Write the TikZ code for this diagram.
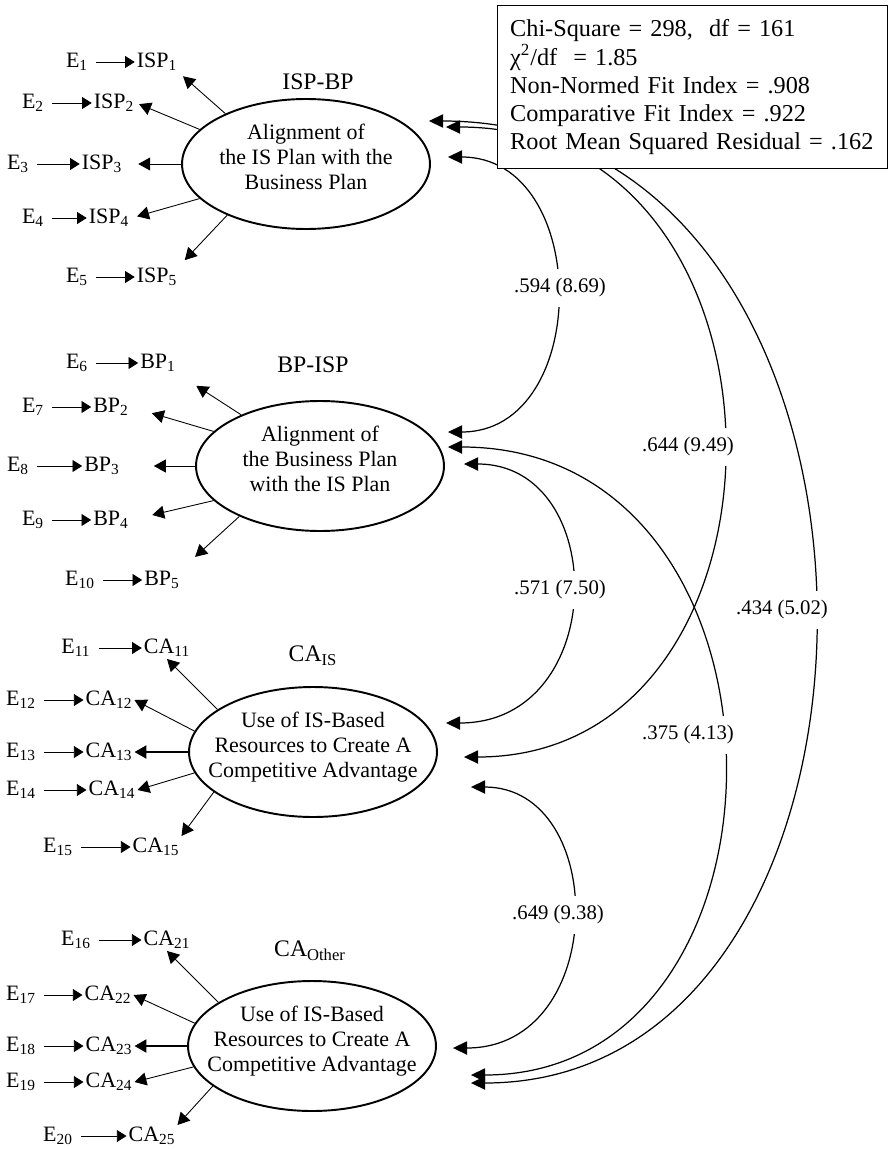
\documentclass[tikz,border=0pt]{standalone}
\usepackage{fontspec}
\setmainfont{Liberation Serif}
\usetikzlibrary{shapes.geometric,arrows.meta}

\begin{document}
\begin{tikzpicture}
            [x=0.02cm, y=-0.02cm,
            latent/.style={ellipse, draw, line width=1.1pt, minimum width=4.96cm, minimum height=2.6cm, inner xsep=-0.4cm, inner ysep=0pt, text depth=0.3cm, align=center, font=\fontsize{12.5}{14.2}\selectfont},
            lname/.style={font=\fontsize{13.5}{15}\selectfont},
            ind/.style={inner sep=1pt, font=\fontsize{12.5}{15}\selectfont},
            err/.style={inner sep=1pt, font=\fontsize{12.5}{15}\selectfont},
            errline/.style={-{Triangle[length=5.5pt,width=6.8pt]}, line width=0.5pt, shorten <=0.12cm},
            load/.style={-{Triangle[length=6.8pt,width=7.4pt]}, line width=0.5pt},
            corr/.style={{Triangle[length=8pt,width=7.5pt]}-{Triangle[length=8pt,width=7.5pt]}, line width=0.7pt},
            est/.style={fill=white, inner xsep=2pt, inner ysep=0.2cm, font=\fontsize{11.8}{13}\selectfont},
            fitbox/.style={draw, fill=white, line width=0.8pt, align=left, text width=7.3cm, inner xsep=0.25cm, minimum width=7.8cm, minimum height=3.26cm, font=\fontsize{13.8}{16}\selectfont}]

            \useasboundingbox (0,0) rectangle (889,1149);

            % Latent variables
            \node[latent] (ispbp) at (306,164) {Alignment of\\the IS Plan with the\\Business Plan};
            \node[latent] (bpisp) at (320,466) {Alignment of\\the Business Plan\\with the IS Plan};
            \node[latent] (cais) at (313,752) {Use of IS-Based\\Resources to Create A\\Competitive Advantage};
            \node[latent] (caoth) at (312,1046) {Use of IS-Based\\Resources to Create A\\Competitive Advantage};

            \node[lname] (ispbp-name) at (318,82) {ISP-BP};
            \node[lname] (bpisp-name) at (313,365) {BP-ISP};
            \node[lname] (cais-name) at (313,656) {CA\textsubscript{IS}};
            \node[lname] (caoth-name) at (310,951) {CA\textsubscript{Other}};

            % ISP-BP indicators
            \node[err] (e1) at (77,62) {E\textsubscript{1}};
            \node[err] (e2) at (33,103) {E\textsubscript{2}};
            \node[err] (e3) at (18,164) {E\textsubscript{3}};
            \node[err] (e4) at (33,218) {E\textsubscript{4}};
            \node[err] (e5) at (77,277) {E\textsubscript{5}};
            \node[ind] (isp1) at (157,62) {ISP\textsubscript{1}};
            \node[ind] (isp2) at (114,103) {ISP\textsubscript{2}};
            \node[ind] (isp3) at (102,164) {ISP\textsubscript{3}};
            \node[ind] (isp4) at (109,218) {ISP\textsubscript{4}};
            \node[ind] (isp5) at (157,277) {ISP\textsubscript{5}};

            % BP-ISP indicators
            \node[err] (e6) at (77,363) {E\textsubscript{6}};
            \node[err] (e7) at (33,407) {E\textsubscript{7}};
            \node[err] (e8) at (18,466) {E\textsubscript{8}};
            \node[err] (e9) at (33,520) {E\textsubscript{9}};
            \node[err] (e10) at (80,580) {E\textsubscript{10}};
            \node[ind] (bp1) at (158,363) {BP\textsubscript{1}};
            \node[ind] (bp2) at (111,407) {BP\textsubscript{2}};
            \node[ind] (bp3) at (102,466) {BP\textsubscript{3}};
            \node[ind] (bp4) at (111,520) {BP\textsubscript{4}};
            \node[ind] (bp5) at (162,580) {BP\textsubscript{5}};

            % CA_IS indicators
            \node[err] (e11) at (76,648) {E\textsubscript{11}};
            \node[err] (e12) at (21,700) {E\textsubscript{12}};
            \node[err] (e13) at (21,752) {E\textsubscript{13}};
            \node[err] (e14) at (21,790) {E\textsubscript{14}};
            \node[err] (e15) at (58,847) {E\textsubscript{15}};
            \node[ind] (ca11) at (167,648) {CA\textsubscript{11}};
            \node[ind] (ca12) at (109,700) {CA\textsubscript{12}};
            \node[ind] (ca13) at (109,752) {CA\textsubscript{13}};
            \node[ind] (ca14) at (112,790) {CA\textsubscript{14}};
            \node[ind] (ca15) at (156,847) {CA\textsubscript{15}};

            % CA_Other indicators
            \node[err] (e16) at (76,940) {E\textsubscript{16}};
            \node[err] (e17) at (21,995) {E\textsubscript{17}};
            \node[err] (e18) at (21,1046) {E\textsubscript{18}};
            \node[err] (e19) at (21,1082) {E\textsubscript{19}};
            \node[err] (e20) at (58,1136) {E\textsubscript{20}};
            \node[ind] (ca21) at (167,940) {CA\textsubscript{21}};
            \node[ind] (ca22) at (108,995) {CA\textsubscript{22}};
            \node[ind] (ca23) at (109,1046) {CA\textsubscript{23}};
            \node[ind] (ca24) at (109,1082) {CA\textsubscript{24}};
            \node[ind] (ca25) at (152,1136) {CA\textsubscript{25}};

            % Error terms
            \draw[errline] (e1) -- (isp1);
            \draw[errline] (e2) -- (isp2);
            \draw[errline] (e3) -- (isp3);
            \draw[errline] (e4) -- (isp4);
            \draw[errline] (e5) -- (isp5);
            \draw[errline] (e6) -- (bp1);
            \draw[errline] (e7) -- (bp2);
            \draw[errline] (e8) -- (bp3);
            \draw[errline] (e9) -- (bp4);
            \draw[errline] (e10) -- (bp5);
            \draw[errline] (e11) -- (ca11);
            \draw[errline] (e12) -- (ca12);
            \draw[errline] (e13) -- (ca13);
            \draw[errline] (e14) -- (ca14);
            \draw[errline] (e15) -- (ca15);
            \draw[errline] (e16) -- (ca21);
            \draw[errline] (e17) -- (ca22);
            \draw[errline] (e18) -- (ca23);
            \draw[errline] (e19) -- (ca24);
            \draw[errline] (e20) -- (ca25);

            % Loadings
            \draw[load, shorten >=0.1cm] (ispbp.148) -- (isp1.south east);
            \draw[load, shorten >=0.06cm] (ispbp.162) -- (isp2.east);
            \draw[load, shorten >=0.28cm] (ispbp.180) -- (isp3.east);
            \draw[load, shorten >=0.12cm] (ispbp.198) -- (isp4.east);
            \draw[load, shorten >=0.16cm] (ispbp.213) -- (isp5.north east);
            \draw[load, shorten >=0.44cm] (bpisp.147) -- (bp1.south east);
            \draw[load, shorten >=0.44cm] (bpisp.162) -- (bp2.east);
            \draw[load, shorten >=0.64cm] (bpisp.180) -- (bp3.east);
            \draw[load, shorten >=0.44cm] (bpisp.198) -- (bp4.east);
            \draw[load, shorten >=0.36cm] (bpisp.212) -- (bp5.north east);
            \draw[load] (cais.156) -- (ca11.south);
            \draw[load] (cais.170) -- (ca12.east);
            \draw[load, line width=1.2pt] (cais.180) -- (ca13.east);
            \draw[load] (cais.190) -- (ca14.east);
            \draw[load] (cais.202) -- (ca15.north east);
            \draw[load] (caoth.155) -- (ca21.south);
            \draw[load] (caoth.169) -- (ca22.east);
            \draw[load, line width=1.2pt] (caoth.180) -- (ca23.east);
            \draw[load] (caoth.190) -- (ca24.east);
            \draw[load] (caoth.202) -- (ca25.north east);

            % Correlations between the factors
            \draw[corr] ([shift={(17,-7)}]ispbp.east) .. controls +(144,0) and +(144,0) .. ([shift={(3,-34)}]bpisp.east);
            \draw[corr] ([shift={(15,-37)}]ispbp.east) .. controls +(366,0) and +(348,0) .. ([shift={(26,5)}]cais.east);
            \draw[corr] ([shift={(-2,-43)}]ispbp.east) .. controls +(506,0) and +(464,0) .. ([shift={(34,37)}]caoth.east);
            \draw[corr] ([shift={(19,-2)}]bpisp.east) .. controls +(146,0) and +(164,0) .. ([shift={(8,-29)}]cais.east);
            \draw[corr] ([shift={(3,-19)}]bpisp.east) .. controls +(363,0) and +(340,0) .. ([shift={(34,29)}]caoth.east);
            \draw[corr] ([shift={(33,35)}]cais.east) .. controls +(138,0) and +(156,0) .. ([shift={(16,2)}]caoth.east);

            \node[est] (r12) at (560,288) {.594 (8.69)};
            \node[est] (r13) at (688,447) {.644 (9.49)};
            \node[est] (r14) at (782,610) {.434 (5.02)};
            \node[est] (r23) at (560,590) {.571 (7.50)};
            \node[est] (r24) at (688,735) {.375 (4.13)};
            \node[est] (r34) at (558,915) {.649 (9.38)};

            % Fit statistics
            \node[fitbox, anchor=north west] (fit) at (497,5) {Chi-Square = 298, \ df = 161\\χ\textsuperscript{2}/df \ = 1.85\\Non-Normed Fit Index = .908\\Comparative Fit Index = .922\\Root Mean Squared Residual = .162};

        \end{tikzpicture}
\end{document}
